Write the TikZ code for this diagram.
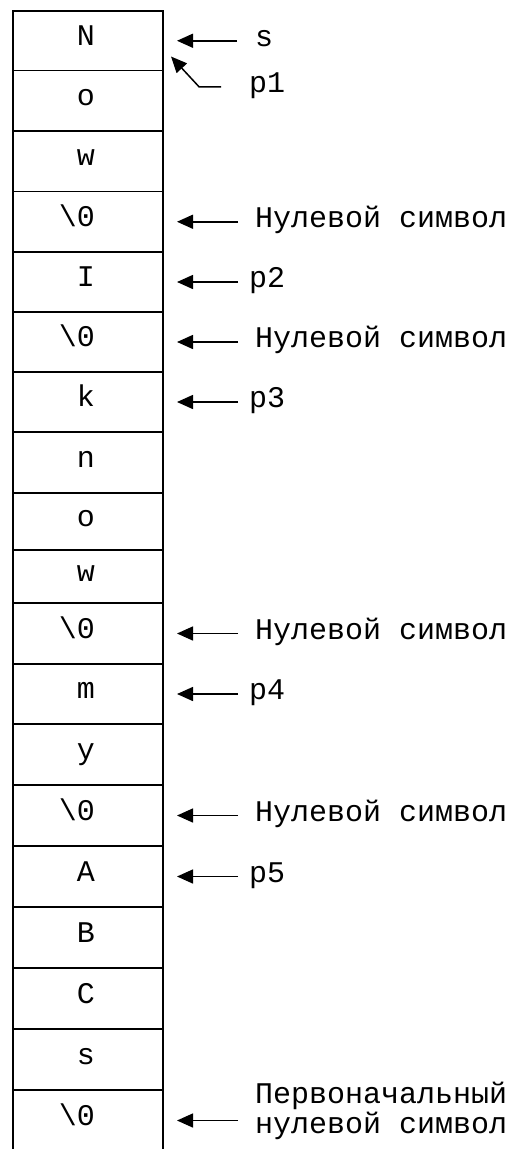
\documentclass[tikz,border=0pt]{standalone}
\usepackage{fontspec}
\newfontfamily\cour{Liberation Mono}
\usetikzlibrary{arrows.meta,positioning}
\newcommand{\nul}{\textbackslash0\hphantom{0}}

\begin{document}
\begin{tikzpicture}[x=1pt, y=-1pt,
  every node/.style = {font=\cour\fontsize{30}{30}\selectfont,
    inner sep=0pt, outer sep=0pt},
  cell/.style = {draw, line width=1.6pt, minimum width=150pt},
  lbl/.style = {anchor=west, text height=17pt, text depth=6pt},
  ptr/.style = {-{Triangle[length=16pt,width=14pt]}, line width=1.5pt,
    shorten <=17pt, shorten >=14pt}]
  \useasboundingbox (0,0) rectangle (528,1149);

  % the string in memory, one cell per character
  \foreach \i/\ya/\yb/\ch in {1/11/70.5/N, 2/70.5/131/o, 3/131/191.5/w,
      4/191.5/252/\nul, 5/252/312/I, 6/312/372/\nul, 7/372/432/k,
      8/432/493/n, 9/493/550/o, 10/550/603/w, 11/603/664/\nul,
      12/664/724/m, 13/724/785/y, 14/785/846/\nul, 15/846/907/A,
      16/907/968/B, 17/968/1029/C, 18/1029/1090/s, 19/1090/1151/\nul} {
    \node[cell, minimum height={\yb-\ya}] (c\i) at (88,{(\ya+\yb)/2}) {};
    \node[anchor=base] (t\i) at ([xshift=-2pt,yshift=-4.5pt]c\i.center) {\ch};
  }

  % pointers
  \node[lbl, right=92pt of c1] (ls) {s};
  \node[lbl, below=23pt of ls.south west, anchor=north west, xshift=-6pt] (lp1) {p1};
  \node[lbl, right=92pt of c4] (l4) {Нулевой символ};
  \node[lbl, right=86pt of c5] (lp2) {p2};
  \node[lbl, right=92pt of c6] (l6) {Нулевой символ};
  \node[lbl, right=86pt of c7] (lp3) {p3};
  \node[lbl, right=92pt of c11] (l11) {Нулевой символ};
  \node[lbl, right=86pt of c12] (lp4) {p4};
  \node[lbl, right=92pt of c14] (l14) {Нулевой символ};
  \node[lbl, right=86pt of c15] (lp5) {p5};
  \node[anchor=west, align=left, right=92pt of c19, yshift=10pt] (l19)
    {Первоначальный\\нулевой символ};

  \coordinate (s1) at ([xshift=8pt,yshift=14pt]c1.south east);

  \draw[ptr, shorten <=18pt] (ls) -- (c1);
  \draw[ptr, shorten >=0pt] ([xshift=-11pt]lp1.west) -- ++(-39pt,0) -- (s1);
  \draw[ptr] (l4) -- (c4);
  \draw[ptr, shorten <=11pt] (lp2) -- (c5);
  \draw[ptr] (l6) -- (c6);
  \draw[ptr, shorten <=11pt] (lp3) -- (c7);
  \draw[ptr] (l11) -- (c11);
  \draw[ptr, shorten <=11pt] (lp4) -- (c12);
  \draw[ptr] (l14) -- (c14);
  \draw[ptr, shorten <=11pt] (lp5) -- (c15);
  \draw[ptr] (l19.west |- c19) -- (c19.east);
\end{tikzpicture}
\end{document}
